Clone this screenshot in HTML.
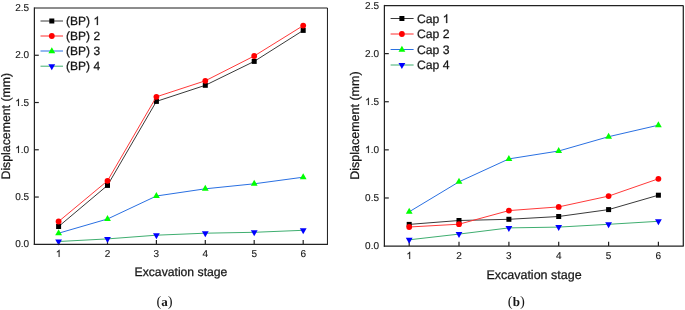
<!DOCTYPE html>
<html><head><meta charset="utf-8"><style>
html,body{margin:0;padding:0;background:#fff;}
svg{display:block;will-change:transform;}
text{font-family:"Liberation Sans", sans-serif;fill:#161616;text-rendering:geometricPrecision;stroke:#161616;stroke-width:0.25px;}
text .h{fill:none;stroke:none;}
path.g{fill:#161616;stroke:#161616;stroke-width:43px;}
text.tk{stroke-width:0.12px;}
path.g.tk{stroke-width:25px;}
text.cap{font-family:"Liberation Serif",serif;stroke:none;}
</style></head><body>
<svg width="685" height="310" viewBox="0 0 685 310">
<rect width="685" height="310" fill="#fff"/>
<text class="tk" x="15.20" y="247.00" font-size="10">0.0</text>
<line x1="34.4" y1="197.04" x2="38.8" y2="197.04" stroke="#222" stroke-width="1.2"/>
<text class="tk" x="15.20" y="200.00" font-size="10">0.5</text>
<line x1="34.4" y1="149.78" x2="38.8" y2="149.78" stroke="#222" stroke-width="1.2"/>
<text class="tk" x="15.20" y="153.00" font-size="10"><tspan class="h">1</tspan>.0</text>
<path class="g tk" transform="translate(15.20,153.00) scale(0.004883,-0.004883)" d="M763 0H583V1147Q518 1085 412 1023Q306 961 221 930V1104Q372 1175 485 1276Q598 1377 645 1472H763Z"/>
<line x1="34.4" y1="102.52" x2="38.8" y2="102.52" stroke="#222" stroke-width="1.2"/>
<text class="tk" x="15.20" y="106.00" font-size="10"><tspan class="h">1</tspan>.5</text>
<path class="g tk" transform="translate(15.20,106.00) scale(0.004883,-0.004883)" d="M763 0H583V1147Q518 1085 412 1023Q306 961 221 930V1104Q372 1175 485 1276Q598 1377 645 1472H763Z"/>
<line x1="34.4" y1="55.26" x2="38.8" y2="55.26" stroke="#222" stroke-width="1.2"/>
<text class="tk" x="15.20" y="58.00" font-size="10">2.0</text>
<text class="tk" x="15.20" y="11.00" font-size="10">2.5</text>
<line x1="58.60" y1="244.3" x2="58.60" y2="239.9" stroke="#222" stroke-width="1.2"/>
<text class="tk" x="55.82" y="257.00" font-size="10"><tspan class="h">1</tspan></text>
<path class="g tk" transform="translate(55.82,257.00) scale(0.004883,-0.004883)" d="M763 0H583V1147Q518 1085 412 1023Q306 961 221 930V1104Q372 1175 485 1276Q598 1377 645 1472H763Z"/>
<line x1="107.50" y1="244.3" x2="107.50" y2="239.9" stroke="#222" stroke-width="1.2"/>
<text class="tk" x="104.72" y="257.00" font-size="10">2</text>
<line x1="156.40" y1="244.3" x2="156.40" y2="239.9" stroke="#222" stroke-width="1.2"/>
<text class="tk" x="153.62" y="257.00" font-size="10">3</text>
<line x1="205.30" y1="244.3" x2="205.30" y2="239.9" stroke="#222" stroke-width="1.2"/>
<text class="tk" x="202.52" y="257.00" font-size="10">4</text>
<line x1="254.20" y1="244.3" x2="254.20" y2="239.9" stroke="#222" stroke-width="1.2"/>
<text class="tk" x="251.42" y="257.00" font-size="10">5</text>
<line x1="303.20" y1="244.3" x2="303.20" y2="239.9" stroke="#222" stroke-width="1.2"/>
<text class="tk" x="300.42" y="257.00" font-size="10">6</text>
<polyline points="58.60,226.50 107.50,185.40 156.40,101.40 205.30,85.30 254.20,61.40 303.20,30.40" fill="none" stroke="#3a3a3a" stroke-width="1.0"/>
<rect x="56.10" y="224.00" width="5.0" height="5.0" fill="#000"/>
<rect x="105.00" y="182.90" width="5.0" height="5.0" fill="#000"/>
<rect x="153.90" y="98.90" width="5.0" height="5.0" fill="#000"/>
<rect x="202.80" y="82.80" width="5.0" height="5.0" fill="#000"/>
<rect x="251.70" y="58.90" width="5.0" height="5.0" fill="#000"/>
<rect x="300.70" y="27.90" width="5.0" height="5.0" fill="#000"/>
<polyline points="58.60,221.50 107.50,180.80 156.40,96.80 205.30,80.80 254.20,56.00 303.20,25.60" fill="none" stroke="#ff2e2e" stroke-width="0.95"/>
<circle cx="58.60" cy="221.50" r="2.9" fill="#ff0000"/>
<circle cx="107.50" cy="180.80" r="2.9" fill="#ff0000"/>
<circle cx="156.40" cy="96.80" r="2.9" fill="#ff0000"/>
<circle cx="205.30" cy="80.80" r="2.9" fill="#ff0000"/>
<circle cx="254.20" cy="56.00" r="2.9" fill="#ff0000"/>
<circle cx="303.20" cy="25.60" r="2.9" fill="#ff0000"/>
<polyline points="58.60,233.20 107.50,219.00 156.40,196.00 205.30,188.80 254.20,183.80 303.20,177.20" fill="none" stroke="#2a70e2" stroke-width="1.0"/>
<polygon points="58.60,229.20 62.00,235.20 55.20,235.20" fill="#00ff00"/>
<polygon points="107.50,215.00 110.90,221.00 104.10,221.00" fill="#00ff00"/>
<polygon points="156.40,192.00 159.80,198.00 153.00,198.00" fill="#00ff00"/>
<polygon points="205.30,184.80 208.70,190.80 201.90,190.80" fill="#00ff00"/>
<polygon points="254.20,179.80 257.60,185.80 250.80,185.80" fill="#00ff00"/>
<polygon points="303.20,173.20 306.60,179.20 299.80,179.20" fill="#00ff00"/>
<polyline points="58.60,241.50 107.50,238.90 156.40,235.20 205.30,233.20 254.20,232.30 303.20,230.30" fill="none" stroke="#3fae70" stroke-width="1.0"/>
<polygon points="55.20,239.50 62.00,239.50 58.60,245.50" fill="#0000ff"/>
<polygon points="104.10,236.90 110.90,236.90 107.50,242.90" fill="#0000ff"/>
<polygon points="153.00,233.20 159.80,233.20 156.40,239.20" fill="#0000ff"/>
<polygon points="201.90,231.20 208.70,231.20 205.30,237.20" fill="#0000ff"/>
<polygon points="250.80,230.30 257.60,230.30 254.20,236.30" fill="#0000ff"/>
<polygon points="299.80,228.30 306.60,228.30 303.20,234.30" fill="#0000ff"/>
<line x1="34.4" y1="8.0" x2="327.45" y2="8.0" stroke="#1a1a1a" stroke-width="1.0"/>
<line x1="327.45" y1="8.0" x2="327.45" y2="244.3" stroke="#1a1a1a" stroke-width="1.0"/>
<line x1="34.4" y1="7.4" x2="34.4" y2="244.9" stroke="#222" stroke-width="1.25"/>
<line x1="33.8" y1="244.3" x2="327.95" y2="244.3" stroke="#222" stroke-width="1.25"/>
<text x="134.54" y="276.00" font-size="12.2">Excavation stage</text>
<text transform="translate(10.1,126.2) rotate(-90)" text-anchor="middle" font-size="12.3">Displacement (mm)</text>
<line x1="40.5" y1="21.0" x2="63.0" y2="21.0" stroke="#3a3a3a" stroke-width="1"/>
<rect x="49.30" y="18.50" width="5.0" height="5.0" fill="#000"/>
<text x="66.10" y="25.00" font-size="12">(BP) <tspan class="h">1</tspan></text>
<path class="g" transform="translate(93.43,25.00) scale(0.005859,-0.005859)" d="M763 0H583V1147Q518 1085 412 1023Q306 961 221 930V1104Q372 1175 485 1276Q598 1377 645 1472H763Z"/>
<line x1="40.5" y1="36.0" x2="63.0" y2="36.0" stroke="#ff2e2e" stroke-width="1"/>
<circle cx="51.80" cy="36.00" r="2.9" fill="#ff0000"/>
<text x="66.10" y="40.00" font-size="12">(BP) 2</text>
<line x1="40.5" y1="51.0" x2="63.0" y2="51.0" stroke="#2a70e2" stroke-width="1"/>
<polygon points="51.80,47.30 55.20,53.30 48.40,53.30" fill="#00ff00"/>
<text x="66.10" y="55.00" font-size="12">(BP) 3</text>
<line x1="40.5" y1="66.2" x2="63.0" y2="66.2" stroke="#3fae70" stroke-width="1"/>
<polygon points="48.40,64.20 55.20,64.20 51.80,70.20" fill="#0000ff"/>
<text x="66.10" y="70.00" font-size="12">(BP) 4</text>
<text class="tk" x="365.10" y="249.00" font-size="10">0.0</text>
<line x1="384.4" y1="197.98" x2="388.79999999999995" y2="197.98" stroke="#222" stroke-width="1.2"/>
<text class="tk" x="365.10" y="201.00" font-size="10">0.5</text>
<line x1="384.4" y1="149.86" x2="388.79999999999995" y2="149.86" stroke="#222" stroke-width="1.2"/>
<text class="tk" x="365.10" y="153.00" font-size="10"><tspan class="h">1</tspan>.0</text>
<path class="g tk" transform="translate(365.10,153.00) scale(0.004883,-0.004883)" d="M763 0H583V1147Q518 1085 412 1023Q306 961 221 930V1104Q372 1175 485 1276Q598 1377 645 1472H763Z"/>
<line x1="384.4" y1="101.74" x2="388.79999999999995" y2="101.74" stroke="#222" stroke-width="1.2"/>
<text class="tk" x="365.10" y="105.00" font-size="10"><tspan class="h">1</tspan>.5</text>
<path class="g tk" transform="translate(365.10,105.00) scale(0.004883,-0.004883)" d="M763 0H583V1147Q518 1085 412 1023Q306 961 221 930V1104Q372 1175 485 1276Q598 1377 645 1472H763Z"/>
<line x1="384.4" y1="53.62" x2="388.79999999999995" y2="53.62" stroke="#222" stroke-width="1.2"/>
<text class="tk" x="365.10" y="57.00" font-size="10">2.0</text>
<text class="tk" x="365.10" y="9.00" font-size="10">2.5</text>
<line x1="409.20" y1="246.1" x2="409.20" y2="241.7" stroke="#222" stroke-width="1.2"/>
<text class="tk" x="406.42" y="259.00" font-size="10"><tspan class="h">1</tspan></text>
<path class="g tk" transform="translate(406.42,259.00) scale(0.004883,-0.004883)" d="M763 0H583V1147Q518 1085 412 1023Q306 961 221 930V1104Q372 1175 485 1276Q598 1377 645 1472H763Z"/>
<line x1="459.00" y1="246.1" x2="459.00" y2="241.7" stroke="#222" stroke-width="1.2"/>
<text class="tk" x="456.22" y="259.00" font-size="10">2</text>
<line x1="508.90" y1="246.1" x2="508.90" y2="241.7" stroke="#222" stroke-width="1.2"/>
<text class="tk" x="506.12" y="259.00" font-size="10">3</text>
<line x1="558.70" y1="246.1" x2="558.70" y2="241.7" stroke="#222" stroke-width="1.2"/>
<text class="tk" x="555.92" y="259.00" font-size="10">4</text>
<line x1="608.60" y1="246.1" x2="608.60" y2="241.7" stroke="#222" stroke-width="1.2"/>
<text class="tk" x="605.82" y="259.00" font-size="10">5</text>
<line x1="658.40" y1="246.1" x2="658.40" y2="241.7" stroke="#222" stroke-width="1.2"/>
<text class="tk" x="655.62" y="259.00" font-size="10">6</text>
<polyline points="409.20,224.40 459.00,220.50 508.90,219.30 558.70,216.50 608.60,209.60 658.40,195.20" fill="none" stroke="#3a3a3a" stroke-width="1.0"/>
<rect x="406.70" y="221.90" width="5.0" height="5.0" fill="#000"/>
<rect x="456.50" y="218.00" width="5.0" height="5.0" fill="#000"/>
<rect x="506.40" y="216.80" width="5.0" height="5.0" fill="#000"/>
<rect x="556.20" y="214.00" width="5.0" height="5.0" fill="#000"/>
<rect x="606.10" y="207.10" width="5.0" height="5.0" fill="#000"/>
<rect x="655.90" y="192.70" width="5.0" height="5.0" fill="#000"/>
<polyline points="409.20,227.00 459.00,224.20 508.90,210.60 558.70,206.90 608.60,196.10 658.40,178.80" fill="none" stroke="#ff2e2e" stroke-width="0.95"/>
<circle cx="409.20" cy="227.00" r="2.9" fill="#ff0000"/>
<circle cx="459.00" cy="224.20" r="2.9" fill="#ff0000"/>
<circle cx="508.90" cy="210.60" r="2.9" fill="#ff0000"/>
<circle cx="558.70" cy="206.90" r="2.9" fill="#ff0000"/>
<circle cx="608.60" cy="196.10" r="2.9" fill="#ff0000"/>
<circle cx="658.40" cy="178.80" r="2.9" fill="#ff0000"/>
<polyline points="409.20,211.80 459.00,181.80 508.90,158.90 558.70,151.00 608.60,136.70 658.40,125.20" fill="none" stroke="#2a70e2" stroke-width="1.0"/>
<polygon points="409.20,207.80 412.60,213.80 405.80,213.80" fill="#00ff00"/>
<polygon points="459.00,177.80 462.40,183.80 455.60,183.80" fill="#00ff00"/>
<polygon points="508.90,154.90 512.30,160.90 505.50,160.90" fill="#00ff00"/>
<polygon points="558.70,147.00 562.10,153.00 555.30,153.00" fill="#00ff00"/>
<polygon points="608.60,132.70 612.00,138.70 605.20,138.70" fill="#00ff00"/>
<polygon points="658.40,121.20 661.80,127.20 655.00,127.20" fill="#00ff00"/>
<polyline points="409.20,239.80 459.00,234.10 508.90,227.90 558.70,227.10 608.60,224.30 658.40,221.30" fill="none" stroke="#3fae70" stroke-width="1.0"/>
<polygon points="405.80,237.80 412.60,237.80 409.20,243.80" fill="#0000ff"/>
<polygon points="455.60,232.10 462.40,232.10 459.00,238.10" fill="#0000ff"/>
<polygon points="505.50,225.90 512.30,225.90 508.90,231.90" fill="#0000ff"/>
<polygon points="555.30,225.10 562.10,225.10 558.70,231.10" fill="#0000ff"/>
<polygon points="605.20,222.30 612.00,222.30 608.60,228.30" fill="#0000ff"/>
<polygon points="655.00,219.30 661.80,219.30 658.40,225.30" fill="#0000ff"/>
<line x1="384.4" y1="5.5" x2="683.3" y2="5.5" stroke="#222" stroke-width="1.25"/>
<line x1="683.3" y1="5.5" x2="683.3" y2="246.1" stroke="#222" stroke-width="1.25"/>
<line x1="384.4" y1="4.9" x2="384.4" y2="246.7" stroke="#222" stroke-width="1.25"/>
<line x1="383.79999999999995" y1="246.1" x2="683.8" y2="246.1" stroke="#222" stroke-width="1.25"/>
<text x="486.40" y="279.00" font-size="12.5">Excavation stage</text>
<text transform="translate(359.4,125.6) rotate(-90)" text-anchor="middle" font-size="12.5">Displacement (mm)</text>
<line x1="390.6" y1="18.5" x2="413.6" y2="18.5" stroke="#3a3a3a" stroke-width="1"/>
<rect x="399.40" y="16.00" width="5.0" height="5.0" fill="#000"/>
<text x="416.90" y="23.00" font-size="12.2">Cap <tspan class="h">1</tspan></text>
<path class="g" transform="translate(442.67,23.00) scale(0.005957,-0.005957)" d="M763 0H583V1147Q518 1085 412 1023Q306 961 221 930V1104Q372 1175 485 1276Q598 1377 645 1472H763Z"/>
<line x1="390.6" y1="34.0" x2="413.6" y2="34.0" stroke="#ff2e2e" stroke-width="1"/>
<circle cx="401.90" cy="34.00" r="2.9" fill="#ff0000"/>
<text x="416.90" y="38.00" font-size="12.2">Cap 2</text>
<line x1="390.6" y1="49.5" x2="413.6" y2="49.5" stroke="#2a70e2" stroke-width="1"/>
<polygon points="401.90,45.80 405.30,51.80 398.50,51.80" fill="#00ff00"/>
<text x="416.90" y="54.00" font-size="12.2">Cap 3</text>
<line x1="390.6" y1="65.0" x2="413.6" y2="65.0" stroke="#3fae70" stroke-width="1"/>
<polygon points="398.50,63.00 405.30,63.00 401.90,69.00" fill="#0000ff"/>
<text x="416.90" y="69.00" font-size="12.2">Cap 4</text>
<text class="cap" x="164.5" y="306.1" text-anchor="middle" font-size="14.5">(<tspan font-weight="bold" font-size="13">a</tspan>)</text>
<text class="cap" x="516.3" y="305.9" text-anchor="middle" font-size="14.5">(<tspan font-weight="bold" font-size="13">b</tspan>)</text>
</svg>
</body></html>
